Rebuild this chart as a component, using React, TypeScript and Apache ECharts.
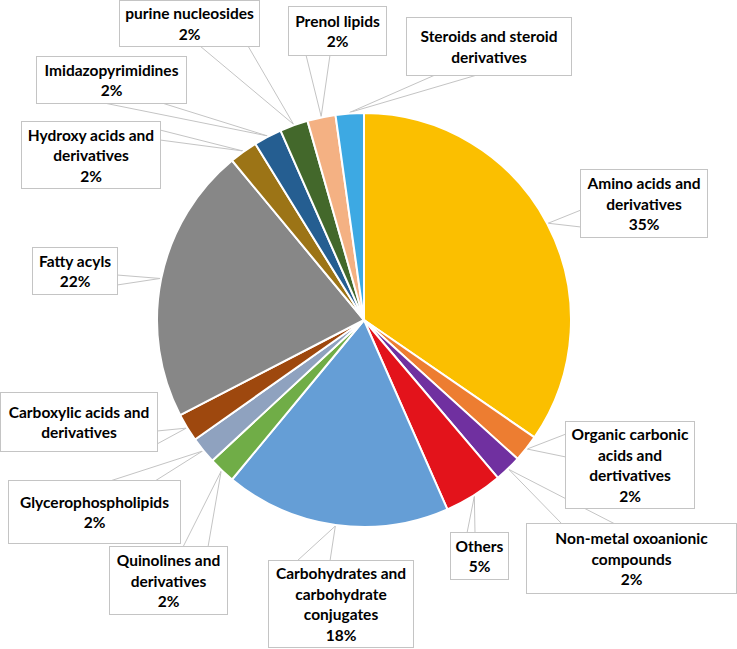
import React, { useEffect, useRef } from 'react';
import * as echarts from 'echarts';

const categories = [
  'Amino acids and\nderivatives',
  'Organic carbonic\nacids and\ndertivatives',
  'Non-metal oxoanionic\ncompounds',
  'Others',
  'Carbohydrates and\ncarbohydrate\nconjugates',
  'Quinolines and\nderivatives',
  'Glycerophospholipids',
  'Carboxylic acids and\nderivatives',
  'Fatty acyls',
  'Hydroxy acids and\nderivatives',
  'Imidazopyrimidines',
  'purine nucleosides',
  'Prenol lipids',
  'Steroids and steroid\nderivatives',
];
const values = [34.6, 2.1, 2.1, 4.6, 17.6, 2.1, 2.1, 2.2, 21.6, 2.2, 2.2, 2.2, 2.2, 2.2];
const showPercent = [true, true, true, true, true, true, true, false, true, true, true, true, true, false];
const colors = [
  '#FBBF00', '#ED7D31', '#7030A0', '#E3131B', '#659ED6', '#70AD47', '#8FA2BF',
  '#9E480E', '#878787', '#9C7416', '#255E91', '#43682B', '#F4B183', '#3DA9E3',
];

// label box layout: [left, top, width, height, wedgeAx, wedgeAy, wedgeBx, wedgeBy]
const boxes: number[][] = [
  [581, 170, 126, 67, 581, 210, 581, 227],
  [566, 422, 128, 86, 566, 434, 566, 457],
  [527, 524, 209, 69, 562, 524, 615, 524],
  [451, 533, 57, 46, 467, 533, 475, 533],
  [269, 561, 144, 86, 297, 561, 330, 561],
  [110, 547, 117, 67, 183, 547, 208, 547],
  [9, 481, 171, 62, 110, 481, 155, 481],
  [1, 393, 156, 58, 157, 431, 157, 444],
  [33, 248, 84, 46, 117, 275, 117, 285],
  [22, 122, 138, 66, 160, 130, 160, 140],
  [37, 57, 149, 46, 104, 103, 162, 103],
  [120, 1, 139, 45, 200, 46, 248, 46],
  [289, 7, 97, 48, 306, 55, 330, 55],
  [407, 18, 164, 57, 435, 75, 477, 75],
];

const CX = 364;
const CY = 320;
const R = 207;
const LH = 20.5;

export default function App() {
  const ref = useRef<HTMLDivElement>(null);
  useEffect(() => {
    if (!ref.current) return;
    const chart = echarts.init(ref.current, null, { renderer: 'svg' });
    const total = values.reduce((a, b) => a + b, 0);
    const tips: number[][] = [];
    let cum = 0;
    values.forEach((v) => {
      const mid = ((cum + v / 2) / total) * Math.PI * 2;
      tips.push([CX + (R + 1) * Math.sin(mid), CY - (R + 1) * Math.cos(mid)]);
      cum += v;
    });
    const data = categories.map((name, i) => {
      const lines = name.split('\n').length + (showPercent[i] ? 1 : 0);
      const b = boxes[i];
      const padV = Math.max(0, (b[3] - lines * LH) / 2);
      return {
        name,
        value: values[i],
        itemStyle: { color: colors[i] },
        label: { width: b[2], padding: [padV, 0, padV, 0] },
      };
    });
    chart.setOption({
      animation: false,
      backgroundColor: '#ffffff',
      series: [
        {
          type: 'pie',
          center: [CX, CY],
          radius: R,
          startAngle: 90,
          clockwise: true,
          avoidLabelOverlap: false,
          itemStyle: { borderColor: '#ffffff', borderWidth: 2 },
          label: {
            show: true,
            position: 'outside',
            overflow: 'none',
            formatter: (p: any) =>
              showPercent[p.dataIndex] ? `${p.name}\n${Math.round(p.percent)}%` : p.name,
            fontFamily: 'Lato, "Open Sans", sans-serif',
            fontWeight: 'bold',
            fontSize: 15.5,
            lineHeight: LH,
            color: '#000000',
            align: 'center',
            backgroundColor: '#ffffff',
            borderColor: '#C4C4C4',
            borderWidth: 1,
          },
          labelLine: {
            show: true,
            smooth: false,
            lineStyle: { color: '#C4C4C4', width: 1 },
          },
          labelLayout: (params: any) => {
            const i = params.dataIndex;
            const b = boxes[i];
            return {
              x: b[0] + b[2] / 2,
              y: b[1] + b[3] / 2,
              align: 'center',
              verticalAlign: 'middle',
              hideOverlap: false,
              labelLinePoints: [[b[4], b[5]], tips[i], [b[6], b[7]]],
            };
          },
          emphasis: { disabled: true },
          data,
        },
      ],
    });
    return () => chart.dispose();
  }, []);
  return (
    <div
      ref={ref}
      style={{ position: 'absolute', left: 0, top: 0, width: 737, height: 649 }}
    />
  );
}
